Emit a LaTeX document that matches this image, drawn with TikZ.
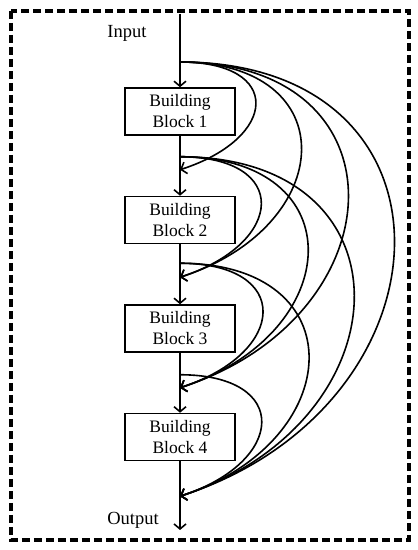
\documentclass[tikz,border=0pt]{standalone}
\usepackage{fontspec}
\setmainfont{Liberation Serif}
\usepackage{tikz}
\usetikzlibrary{arrows.meta,positioning,calc}

\begin{document}
\begin{tikzpicture}[
  x=1pt, y=1pt,
  node distance=60pt,
  block/.style={draw, line width=1.5pt, minimum width=110pt, minimum height=47pt, align=center, inner sep=2pt, font=\fontsize{17.5}{21}\selectfont},
  label/.style={font=\fontsize{18.5}{22}\selectfont},
  arrow/.style={line width=1.6pt, -{Straight Barb[length=5pt,width=12pt,line width=1.6pt]}},
  skip/.style={line width=1.6pt, -{Straight Barb[length=5pt,width=12pt,line width=1.6pt]}},
  frame/.style={line width=3.5pt, dash pattern=on 8pt off 4pt}
]
\useasboundingbox (0,0) rectangle (418,550);
\draw[frame] (11,539) rectangle (409,10);

\coordinate (top) at (180,536);
\coordinate (bottom) at (180,20);
\node[label] (input) at (127,517) {Input};
\node[label] (output) at (133,30) {Output};

\node[block] (b1) at (180,438.5) {Building\\Block 1};
\node[block, below=of b1] (b2) {Building\\Block 2};
\node[block, below=of b2] (b3) {Building\\Block 3};
\node[block, below=of b3] (b4) {Building\\Block 4};

% taps and merge points on the trunk
\coordinate (s0) at (180,488);
\coordinate (s1) at ($(b1.south)+(0,-21)$);
\coordinate (t1) at ($(b1.south)+(0,-34)$);
\coordinate (s2) at ($(b2.south)+(0,-19)$);
\coordinate (t2) at ($(b2.south)+(0,-33)$);
\coordinate (s3) at ($(b3.south)+(0,-22)$);
\coordinate (t3) at ($(b3.south)+(0,-35)$);
\coordinate (t4) at ($(b4.south)+(0,-35)$);

\draw[arrow] (top) -- (b1);
\draw[arrow] (b1) -- (b2);
\draw[arrow] (b2) -- (b3);
\draw[arrow] (b3) -- (b4);
\draw[arrow] (b4) -- (bottom);

\foreach \s/\t in {s0/t1,s0/t2,s0/t3,s0/t4,s1/t2,s1/t3,s1/t4,s2/t3,s2/t4,s3/t4}
  \draw[skip] let \p1=(\s), \p2=(\t), \n1={0.58*(\y1-\y2)+41pt} in
    (\p1) to[out=0, in=18, distance=\n1] (\p2);
\end{tikzpicture}
\end{document}
